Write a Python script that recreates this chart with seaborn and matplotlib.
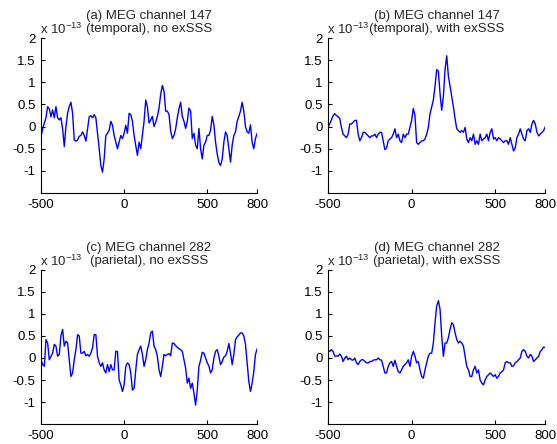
import numpy as np
import pandas as pd
import matplotlib
matplotlib.use('Agg')
import matplotlib.pyplot as plt
import seaborn as sns

# time samples (ms), one every 10 ms from -500 to 800
time_ms = np.arange(-500, 801, 10)

# field values in units of 1e-13 T
ch147_no_exsss = [
    -0.23, -0.05, 0.08, 0.2, 0.45, 0.4, 0.22, 0.38, 0.2, 0.45,
    0.2, 0.15, 0.2, -0.05, -0.45, 0.0, 0.3, 0.45, 0.55, 0.3,
    -0.3, -0.33, -0.3, -0.22, -0.2, -0.12, -0.2, -0.33, -0.05, 0.22,
    0.25, 0.2, 0.27, 0.2, -0.15, -0.5, -0.88, -1.03, -0.73, -0.2,
    -0.15, -0.08, 0.12, 0.03, -0.2, -0.35, -0.5, -0.35, -0.2, -0.27,
    -0.15, 0.03, -0.15, 0.3, 0.27, 0.12, -0.2, -0.42, -0.65, -0.35,
    -0.5, -0.2, 0.12, 0.6, 0.45, 0.08, 0.15, 0.23, 0.0, 0.1,
    0.23, 0.42, 0.73, 0.93, 0.8, 0.35, 0.35, 0.27, -0.1, -0.27,
    -0.2, -0.05, 0.2, 0.4, 0.55, 0.23, 0.12, -0.04, 0.12, 0.42,
    0.35, -0.27, -0.15, -0.42, -0.5, -0.04, -0.5, -0.73, -0.42, -0.35,
    -0.2, -0.2, -0.08, 0.23, 0.04, -0.35, -0.62, -0.81, -0.88, -0.73,
    -0.35, -0.12, -0.2, -0.5, -0.8, -0.42, -0.2, -0.12, 0.12, 0.23,
    0.35, 0.55, 0.35, 0.0, -0.12, -0.15, 0.04, -0.35, -0.5, -0.27,
    -0.15,
]
ch147_with_exsss = [
    0.0, 0.06, 0.15, 0.25, 0.29, 0.25, 0.22, 0.18, -0.02, -0.17,
    -0.21, -0.25, -0.17, 0.06, 0.06, 0.1, 0.14, 0.14, -0.17, -0.32,
    -0.25, -0.13, -0.13, -0.17, -0.21, -0.25, -0.21, -0.21, -0.17, -0.25,
    -0.17, -0.13, -0.13, -0.32, -0.52, -0.48, -0.32, -0.28, -0.25, -0.17,
    -0.05, -0.25, -0.17, -0.32, -0.36, -0.17, -0.25, -0.17, -0.17, -0.02,
    0.14, 0.41, 0.25, -0.36, -0.4, -0.36, -0.32, -0.32, -0.28, -0.17,
    -0.02, 0.29, 0.45, 0.6, 0.91, 1.29, 1.25, 0.75, 0.37, 0.68,
    1.29, 1.6, 1.14, 0.91, 0.68, 0.45, 0.18, -0.05, -0.09, -0.13,
    -0.09, -0.13, -0.02, -0.28, -0.36, -0.25, -0.32, -0.17, -0.4, -0.32,
    -0.4, -0.17, -0.32, -0.28, -0.25, -0.17, -0.32, -0.13, -0.05, -0.28,
    -0.25, -0.32, -0.25, -0.28, -0.32, -0.36, -0.32, -0.32, -0.4, -0.25,
    -0.4, -0.55, -0.48, -0.25, -0.17, -0.05, -0.17, -0.28, -0.32, -0.09,
    -0.05, -0.13, 0.06, 0.14, 0.06, -0.13, -0.21, -0.17, -0.13, -0.09,
    0.0,
]
ch282_no_exsss = [
    -0.04, -0.15, -0.19, 0.42, 0.34, -0.04, 0.04, 0.11, 0.31, 0.27,
    0.04, 0.08, 0.5, 0.65, 0.27, 0.38, 0.34, -0.04, -0.42, -0.34,
    -0.04, 0.19, 0.53, 0.5, 0.11, 0.11, 0.15, 0.05, 0.08, 0.04,
    0.11, 0.23, 0.53, 0.53, 0.04, -0.11, -0.19, -0.11, -0.27, -0.34,
    -0.15, -0.31, -0.15, -0.27, -0.27, 0.15, 0.15, -0.5, -0.61, -0.76,
    -0.61, -0.19, -0.11, -0.15, -0.34, -0.73, -0.69, -0.27, 0.08, 0.19,
    0.27, 0.08, -0.19, -0.04, 0.19, 0.34, 0.57, 0.61, 0.27, 0.19,
    0.04, -0.27, -0.42, -0.19, 0.08, 0.05, 0.08, 0.1, 0.05, 0.34,
    0.33, 0.28, 0.24, 0.21, 0.19, 0.15, -0.04, -0.23, -0.57, -0.46,
    -0.69, -0.57, -0.8, -1.07, -0.73, -0.19, -0.05, 0.13, 0.11, 0.0,
    -0.11, -0.18, -0.34, -0.27, 0.0, 0.15, 0.19, 0.04, -0.15, -0.08,
    0.02, 0.05, 0.15, 0.33, 0.11, -0.15, 0.08, 0.42, 0.48, 0.52,
    0.57, 0.57, 0.5, 0.31, -0.11, -0.53, -0.76, -0.57, -0.31, 0.08,
    0.21,
]
ch282_with_exsss = [
    0.19, 0.15, 0.19, 0.15, 0.04, 0.05, 0.04, 0.09, 0.04, -0.08,
    0.0, 0.04, -0.04, 0.0, -0.04, -0.05, 0.0, -0.11, -0.15, -0.08,
    -0.04, -0.04, -0.08, -0.11, -0.11, -0.08, -0.08, -0.05, -0.04, -0.04,
    0.0, -0.04, -0.05, -0.19, -0.34, -0.34, -0.19, -0.11, -0.08, -0.19,
    -0.05, -0.19, -0.31, -0.34, -0.27, -0.19, -0.15, -0.11, -0.04, -0.19,
    0.04, 0.15, 0.04, -0.11, -0.08, -0.27, -0.42, -0.46, -0.27, -0.11,
    0.04, 0.11, 0.11, 0.34, 0.8, 1.18, 1.3, 1.11, 0.5, 0.04,
    0.34, 0.34, 0.46, 0.65, 0.8, 0.76, 0.57, 0.42, 0.34, 0.38,
    0.34, 0.27, 0.04, -0.19, -0.27, -0.42, -0.42, -0.27, -0.19, -0.34,
    -0.27, -0.5, -0.57, -0.61, -0.5, -0.42, -0.38, -0.34, -0.38, -0.42,
    -0.38, -0.46, -0.42, -0.34, -0.31, -0.27, -0.11, -0.08, -0.11, -0.11,
    -0.19, -0.18, -0.11, -0.08, -0.04, 0.0, 0.15, 0.19, 0.15, 0.04,
    0.0, 0.08, 0.04, -0.08, -0.04, 0.0, 0.04, 0.15, 0.19, 0.25,
    0.23,
]

titles = [
    "(a) MEG channel 147\n(temporal), no exSSS",
    "(b) MEG channel 147\n(temporal), with exSSS",
    "(c) MEG channel 282\n(parietal), no exSSS",
    "(d) MEG channel 282\n(parietal), with exSSS",
]
series = [ch147_no_exsss, ch147_with_exsss, ch282_no_exsss, ch282_with_exsss]

x_ticks = [-500, 0, 500, 800]
y_ticks = [-1, -0.5, 0, 0.5, 1, 1.5, 2]
y_tick_labels = ["-1", "-0.5", "0", "0.5", "1", "1.5", "2"]

sns.set_style("ticks")
plt.rcParams['font.family'] = ['Liberation Sans', 'DejaVu Sans']
plt.rcParams['mathtext.fontset'] = 'custom'
plt.rcParams['mathtext.rm'] = 'Liberation Sans'
plt.rcParams['axes.unicode_minus'] = False
plt.rcParams['xtick.direction'] = 'in'
plt.rcParams['ytick.direction'] = 'in'

fig = plt.figure(figsize=(5.57, 4.44), dpi=100)

# axes boxes in figure fractions [left, bottom, width, height]
boxes = [
    [0.0736, 0.5653, 0.388, 0.349],
    [0.589, 0.5653, 0.390, 0.349],
    [0.0736, 0.045, 0.388, 0.347],
    [0.589, 0.045, 0.390, 0.347],
]

for box, title, vals in zip(boxes, titles, series):
    ax = fig.add_axes(box)
    df = pd.DataFrame({"t": time_ms, "b": vals})
    sns.lineplot(data=df, x="t", y="b", ax=ax, color=(0, 0, 1), linewidth=1.0)
    ax.set_xlim(-500, 800)
    ax.set_ylim(-1.5, 2)
    ax.set_xticks(x_ticks)
    ax.set_xticklabels([str(v) for v in x_ticks])
    ax.set_yticks(y_ticks)
    ax.set_yticklabels(y_tick_labels)
    ax.set_xlabel("")
    ax.set_ylabel("")
    ax.tick_params(labelsize=9.5, length=3, width=0.8, colors='black', pad=4)
    sns.despine(ax=ax)
    for s in ["left", "bottom"]:
        ax.spines[s].set_color("black")
        ax.spines[s].set_linewidth(0.8)
    ax.set_title(title, fontsize=9.5, linespacing=1.2, pad=4, x=0.5)
    ax.text(-0.005, 1.005, r"x 10$^{-13}$", transform=ax.transAxes,
            fontsize=9.5, ha="left", va="bottom")

fig.savefig("out.png", dpi=100)
